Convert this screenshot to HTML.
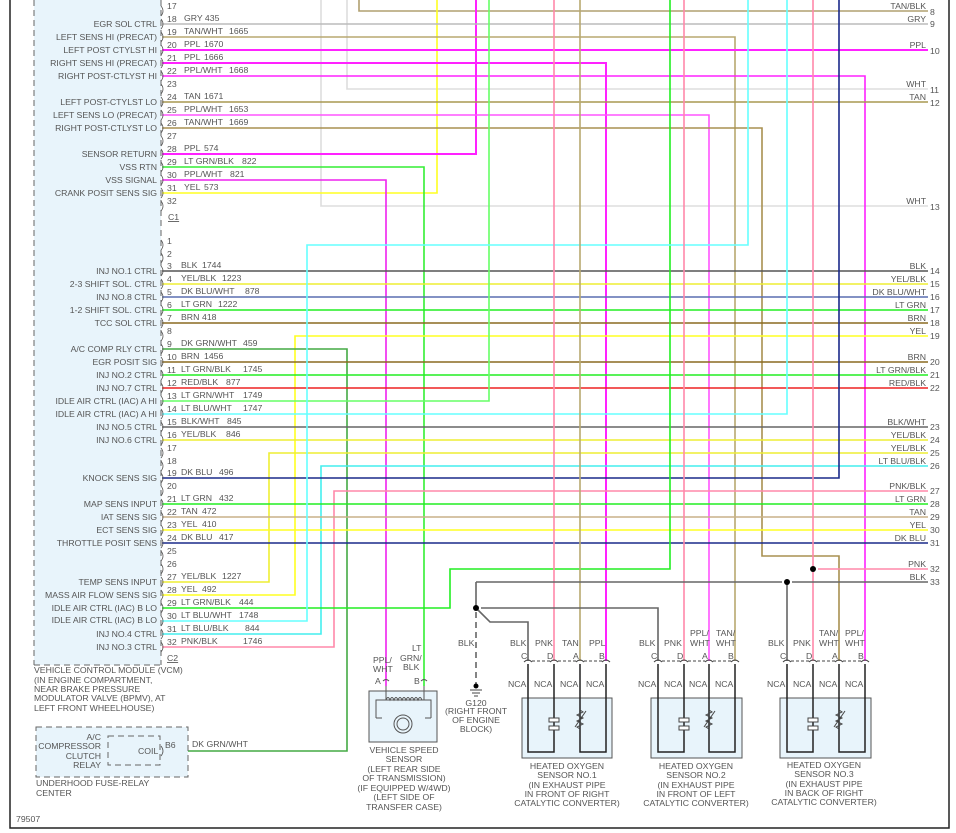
<!DOCTYPE html>
<html><head><meta charset="utf-8"><style>
html,body{margin:0;padding:0;background:#fff}
svg{display:block;font-family:"Liberation Sans",sans-serif}
text{fill:#555;font-size:8.7px}
.r{text-anchor:end}.c{text-anchor:middle}
</style></head><body>
<svg width="956" height="833" viewBox="0 0 956 833" xmlns="http://www.w3.org/2000/svg">
<rect x="0" y="0" width="956" height="833" fill="#fff"/>
<rect x="34" y="0" width="127" height="665" fill="#e8f4fb"/>
<line x1="34" y1="0" x2="34" y2="665" stroke="#666" stroke-dasharray="6,4"/>
<line x1="34" y1="665" x2="161" y2="665" stroke="#666" stroke-dasharray="6,4"/>
<line x1="161" y1="0" x2="161" y2="665" stroke="#666" stroke-dasharray="6,4"/>
<path d="M10,0 V828 H949 V0" fill="none" stroke="#222" stroke-width="1.5"/>

<g fill="none" stroke-width="1.6">
<path d="M321,0 V206 H928" stroke="#ddd"/>
<path d="M347,0 V89 H928" stroke="#ddd"/>
<path d="M359,0 V11 H928" stroke="#b0a070"/>
<path d="M437,0 V193 H162" stroke="#ff2"/>
<path d="M476,0 V154 H162" stroke="#f2f" stroke-width="2"/>
<path d="M162,24 H928" stroke="#bbb"/>
<path d="M162,37 H735 V661" stroke="#b8a870"/>
<path d="M162,50 H928" stroke="#f2f" stroke-width="2"/>
<path d="M162,63 H606 V661" stroke="#f2f" stroke-width="2"/>
<path d="M162,76 H865 V661" stroke="#f2f"/>
<path d="M162,102 H928" stroke="#a89850"/>
<path d="M162,115 H709 V661" stroke="#f5f"/>
<path d="M162,128 H762 V556 H839 V661" stroke="#a89050"/>
<path d="M162,167 H424 V686" stroke="#3e3"/>
<path d="M162,180 H386 V686" stroke="#e2e"/>
<path d="M162,271 H928" stroke="#555"/>
<path d="M162,284 H928" stroke="#ee3"/>
<path d="M162,297 H928" stroke="#5a6fb0"/>
<path d="M162,310 H928" stroke="#2e2"/>
<path d="M162,323 H928" stroke="#8a6a20"/>
<path d="M162,595 H295 V336 H928" stroke="#ff2"/>
<path d="M162,349 H347 V751 H165" stroke="#4a4"/>
<path d="M162,362 H928" stroke="#8a6a20"/>
<path d="M162,375 H928" stroke="#2e2"/>
<path d="M162,388 H928" stroke="#e22"/>
<path d="M162,401 H489 V0" stroke="#6f6"/>
<path d="M162,414 H787 V0" stroke="#6ff"/>
<path d="M162,427 H928" stroke="#666"/>
<path d="M162,440 H928" stroke="#ee3"/>
<path d="M162,582 H269 V453 H928" stroke="#ee3"/>
<path d="M162,634 H321 V466 H928" stroke="#4ee"/>
<path d="M162,478 H839 V0" stroke="#1a2a8a"/>
<path d="M162,647 H334 V491 H928" stroke="#f8a"/>
<path d="M162,504 H928" stroke="#2e2"/>
<path d="M162,517 H928" stroke="#c8b088"/>
<path d="M162,530 H928" stroke="#ff2"/>
<path d="M162,543 H928" stroke="#1a2a8a"/>
<path d="M162,608 H450 V569 H670 V0" stroke="#2e2"/>
<path d="M162,621 H307 V245 H748 V0" stroke="#6ff"/>
<path d="M554,0 V661" stroke="#f8a"/>
<path d="M580,0 V661" stroke="#b8a870"/>
<path d="M684,0 V661" stroke="#f8a"/>
<path d="M813,0 V661" stroke="#f8a"/>
<path d="M818,569 H928" stroke="#f8a"/>
<path d="M476,582 H782 M792,582 H928" stroke="#666"/>
<path d="M787,582 V661" stroke="#666"/>
<path d="M476,582 V608 M481,608 H658 V661 M476,608 L490,622 H528 V661" stroke="#666"/>
<path d="M476,612 V685" stroke="#666" stroke-dasharray="6,4"/>
</g>
<g fill="#000"><circle cx="813" cy="569" r="3"/><circle cx="787" cy="582" r="3"/><circle cx="476" cy="608" r="3"/><circle cx="476" cy="686" r="2.5"/></g>
<path d="M470,690 H482 M472,693 H480 M474,696 H478" stroke="#444"/>

<g fill="none" stroke="#555" stroke-width="0.8">
<path d="M161,6 q4,5 0,10 M161,19 q4,5 0,10 M161,32 q4,5 0,10 M161,45 q4,5 0,10 M161,58 q4,5 0,10 M161,71 q4,5 0,10 M161,84 q4,5 0,10 M161,97 q4,5 0,10 M161,110 q4,5 0,10 M161,123 q4,5 0,10 M161,136 q4,5 0,10 M161,149 q4,5 0,10 M161,162 q4,5 0,10 M161,175 q4,5 0,10 M161,188 q4,5 0,10 M161,201 q4,5 0,10"/>
<path d="M161,240 q4,5 0,10 M161,253 q4,5 0,10 M161,266 q4,5 0,10 M161,279 q4,5 0,10 M161,292 q4,5 0,10 M161,305 q4,5 0,10 M161,318 q4,5 0,10 M161,331 q4,5 0,10 M161,344 q4,5 0,10 M161,357 q4,5 0,10 M161,370 q4,5 0,10 M161,383 q4,5 0,10 M161,396 q4,5 0,10 M161,409 q4,5 0,10 M161,422 q4,5 0,10 M161,435 q4,5 0,10 M161,448 q4,5 0,10 M161,461 q4,5 0,10 M161,473 q4,5 0,10 M161,486 q4,5 0,10 M161,499 q4,5 0,10 M161,512 q4,5 0,10 M161,525 q4,5 0,10 M161,538 q4,5 0,10 M161,551 q4,5 0,10 M161,564 q4,5 0,10 M161,577 q4,5 0,10 M161,590 q4,5 0,10 M161,603 q4,5 0,10 M161,616 q4,5 0,10 M161,629 q4,5 0,10 M161,642 q4,5 0,10"/>
</g>

<g>
<text x="167" y="9">17</text>
<text x="167" y="22">18</text><text x="184" y="21">GRY 435</text><text class="r" x="157" y="27">EGR SOL CTRL</text>
<text x="167" y="35">19</text><text x="184" y="34">TAN/WHT</text><text x="229" y="34">1665</text><text class="r" x="157" y="40">LEFT SENS HI (PRECAT)</text>
<text x="167" y="48">20</text><text x="184" y="47">PPL</text><text x="204" y="47">1670</text><text class="r" x="157" y="53">LEFT POST CTYLST HI</text>
<text x="167" y="61">21</text><text x="184" y="60">PPL</text><text x="204" y="60">1666</text><text class="r" x="157" y="66">RIGHT SENS HI (PRECAT)</text>
<text x="167" y="74">22</text><text x="184" y="73">PPL/WHT</text><text x="229" y="73">1668</text><text class="r" x="157" y="79">RIGHT POST-CTLYST HI</text>
<text x="167" y="87">23</text>
<text x="167" y="100">24</text><text x="184" y="99">TAN</text><text x="204" y="99">1671</text><text class="r" x="157" y="105">LEFT POST-CTYLST LO</text>
<text x="167" y="113">25</text><text x="184" y="112">PPL/WHT</text><text x="229" y="112">1653</text><text class="r" x="157" y="118">LEFT SENS LO (PRECAT)</text>
<text x="167" y="126">26</text><text x="184" y="125">TAN/WHT</text><text x="229" y="125">1669</text><text class="r" x="157" y="131">RIGHT POST-CTLYST LO</text>
<text x="167" y="139">27</text>
<text x="167" y="152">28</text><text x="184" y="151">PPL</text><text x="204" y="151">574</text><text class="r" x="157" y="157">SENSOR RETURN</text>
<text x="167" y="165">29</text><text x="184" y="164">LT GRN/BLK</text><text x="242" y="164">822</text><text class="r" x="157" y="170">VSS RTN</text>
<text x="167" y="178">30</text><text x="184" y="177">PPL/WHT</text><text x="230" y="177">821</text><text class="r" x="157" y="183">VSS SIGNAL</text>
<text x="167" y="191">31</text><text x="184" y="190">YEL</text><text x="204" y="190">573</text><text class="r" x="157" y="196">CRANK POSIT SENS SIG</text>
<text x="167" y="204">32</text>
<text x="168" y="220" text-decoration="underline">C1</text>
</g>
<g>
<text x="167" y="244">1</text><text x="167" y="257">2</text>
<text x="167" y="269">3</text><text x="181" y="268">BLK</text><text x="202" y="268">1744</text><text class="r" x="157" y="274">INJ NO.1 CTRL</text>
<text x="167" y="282">4</text><text x="181" y="281">YEL/BLK</text><text x="222" y="281">1223</text><text class="r" x="157" y="287">2-3 SHIFT SOL. CTRL</text>
<text x="167" y="295">5</text><text x="181" y="294">DK BLU/WHT</text><text x="245" y="294">878</text><text class="r" x="157" y="300">INJ NO.8 CTRL</text>
<text x="167" y="308">6</text><text x="181" y="307">LT GRN</text><text x="218" y="307">1222</text><text class="r" x="157" y="313">1-2 SHIFT SOL. CTRL</text>
<text x="167" y="321">7</text><text x="181" y="320">BRN</text><text x="202" y="320">418</text><text class="r" x="157" y="326">TCC SOL CTRL</text>
<text x="167" y="334">8</text>
<text x="167" y="347">9</text><text x="181" y="346">DK GRN/WHT</text><text x="243" y="346">459</text><text class="r" x="157" y="352">A/C COMP RLY CTRL</text>
<text x="167" y="360">10</text><text x="181" y="359">BRN</text><text x="204" y="359">1456</text><text class="r" x="157" y="365">EGR POSIT SIG</text>
<text x="167" y="373">11</text><text x="181" y="372">LT GRN/BLK</text><text x="243" y="372">1745</text><text class="r" x="157" y="378">INJ NO.2 CTRL</text>
<text x="167" y="386">12</text><text x="181" y="385">RED/BLK</text><text x="226" y="385">877</text><text class="r" x="157" y="391">INJ NO.7 CTRL</text>
<text x="167" y="399">13</text><text x="181" y="398">LT GRN/WHT</text><text x="243" y="398">1749</text><text class="r" x="157" y="404">IDLE AIR CTRL (IAC) A HI</text>
<text x="167" y="412">14</text><text x="181" y="411">LT BLU/WHT</text><text x="243" y="411">1747</text><text class="r" x="157" y="417">IDLE AIR CTRL (IAC) A HI</text>
<text x="167" y="425">15</text><text x="181" y="424">BLK/WHT</text><text x="227" y="424">845</text><text class="r" x="157" y="430">INJ NO.5 CTRL</text>
<text x="167" y="438">16</text><text x="181" y="437">YEL/BLK</text><text x="226" y="437">846</text><text class="r" x="157" y="443">INJ NO.6 CTRL</text>
<text x="167" y="451">17</text><text x="167" y="464">18</text>
<text x="167" y="476">19</text><text x="181" y="475">DK BLU</text><text x="219" y="475">496</text><text class="r" x="157" y="481">KNOCK SENS SIG</text>
<text x="167" y="489">20</text>
<text x="167" y="502">21</text><text x="181" y="501">LT GRN</text><text x="219" y="501">432</text><text class="r" x="157" y="507">MAP SENS INPUT</text>
<text x="167" y="515">22</text><text x="181" y="514">TAN</text><text x="202" y="514">472</text><text class="r" x="157" y="520">IAT SENS SIG</text>
<text x="167" y="528">23</text><text x="181" y="527">YEL</text><text x="202" y="527">410</text><text class="r" x="157" y="533">ECT SENS SIG</text>
<text x="167" y="541">24</text><text x="181" y="540">DK BLU</text><text x="219" y="540">417</text><text class="r" x="157" y="546">THROTTLE POSIT SENS</text>
<text x="167" y="554">25</text><text x="167" y="567">26</text>
<text x="167" y="580">27</text><text x="181" y="579">YEL/BLK</text><text x="222" y="579">1227</text><text class="r" x="157" y="585">TEMP SENS INPUT</text>
<text x="167" y="593">28</text><text x="181" y="592">YEL</text><text x="202" y="592">492</text><text class="r" x="157" y="598">MASS AIR FLOW SENS SIG</text>
<text x="167" y="606">29</text><text x="181" y="605">LT GRN/BLK</text><text x="239" y="605">444</text><text class="r" x="157" y="611">IDLE AIR CTRL (IAC) B LO</text>
<text x="167" y="619">30</text><text x="181" y="618">LT BLU/WHT</text><text x="239" y="618">1748</text><text class="r" x="157" y="623">IDLE AIR CTRL (IAC) B LO</text>
<text x="167" y="632">31</text><text x="181" y="631">LT BLU/BLK</text><text x="245" y="631">844</text><text class="r" x="157" y="637">INJ NO.4 CTRL</text>
<text x="167" y="645">32</text><text x="181" y="644">PNK/BLK</text><text x="243" y="644">1746</text><text class="r" x="157" y="650">INJ NO.3 CTRL</text>
<text x="167" y="661" text-decoration="underline">C2</text>
</g>
<g>
<text class="r" x="926" y="9">TAN/BLK</text><text x="930" y="15">8</text>
<text class="r" x="926" y="22">GRY</text><text x="930" y="27">9</text>
<text class="r" x="926" y="48">PPL</text><text x="930" y="54">10</text>
<text class="r" x="926" y="87">WHT</text><text x="930" y="93">11</text>
<text class="r" x="926" y="100">TAN</text><text x="930" y="106">12</text>
<text class="r" x="926" y="204">WHT</text><text x="930" y="210">13</text>
<text class="r" x="926" y="269">BLK</text><text x="930" y="274">14</text>
<text class="r" x="926" y="282">YEL/BLK</text><text x="930" y="287">15</text>
<text class="r" x="926" y="295">DK BLU/WHT</text><text x="930" y="300">16</text>
<text class="r" x="926" y="308">LT GRN</text><text x="930" y="313">17</text>
<text class="r" x="926" y="321">BRN</text><text x="930" y="326">18</text>
<text class="r" x="926" y="334">YEL</text><text x="930" y="339">19</text>
<text class="r" x="926" y="360">BRN</text><text x="930" y="365">20</text>
<text class="r" x="926" y="373">LT GRN/BLK</text><text x="930" y="378">21</text>
<text class="r" x="926" y="386">RED/BLK</text><text x="930" y="391">22</text>
<text class="r" x="926" y="425">BLK/WHT</text><text x="930" y="430">23</text>
<text class="r" x="926" y="438">YEL/BLK</text><text x="930" y="443">24</text>
<text class="r" x="926" y="451">YEL/BLK</text><text x="930" y="456">25</text>
<text class="r" x="926" y="464">LT BLU/BLK</text><text x="930" y="469">26</text>
<text class="r" x="926" y="489">PNK/BLK</text><text x="930" y="494">27</text>
<text class="r" x="926" y="502">LT GRN</text><text x="930" y="507">28</text>
<text class="r" x="926" y="515">TAN</text><text x="930" y="520">29</text>
<text class="r" x="926" y="528">YEL</text><text x="930" y="533">30</text>
<text class="r" x="926" y="541">DK BLU</text><text x="930" y="546">31</text>
<text class="r" x="926" y="567">PNK</text><text x="930" y="572">32</text>
<text class="r" x="926" y="580">BLK</text><text x="930" y="585">33</text>
</g>

<g>
<text x="34" y="673">VEHICLE CONTROL MODULE (VCM)</text>
<text x="34" y="683">(IN ENGINE COMPARTMENT,</text>
<text x="34" y="692">NEAR BRAKE PRESSURE</text>
<text x="34" y="701">MODULATOR VALVE (BPMV), AT</text>
<text x="34" y="711">LEFT FRONT WHEELHOUSE)</text>
</g>
<rect x="36" y="727" width="152" height="50" fill="#e8f4fb" stroke="#666" stroke-dasharray="6,4"/>
<rect x="108" y="736" width="52" height="29" fill="none" stroke="#666" stroke-dasharray="6,4"/>
<path d="M161,746 q4,5 0,10" fill="none" stroke="#555" stroke-width="0.8"/>
<text class="r" x="101" y="740">A/C</text><text class="r" x="101" y="749">COMPRESSOR</text><text class="r" x="101" y="759">CLUTCH</text><text class="r" x="101" y="768">RELAY</text>
<text x="138" y="754">COIL</text><text x="165" y="748">B6</text><text x="192" y="747">DK GRN/WHT</text>
<text x="36" y="786">UNDERHOOD FUSE-RELAY</text><text x="36" y="796">CENTER</text>
<text x="16" y="822">79507</text>

<rect x="369" y="691" width="68" height="51" fill="#e8f4fb" stroke="#555"/>
<path d="M386,686 V700 M424,686 V700 M376,718 V700 H431 V718 M376,718 H382 M431,718 H425" fill="none" stroke="#555"/>
<path d="M386,700 q2,-5 4,0 q2,-5 4,0 q2,-5 4,0 q2,-5 4,0 q2,-5 4,0 q2,-5 4,0 q2,-5 4,0 q2,-5 4,0 q2,-5 4,0" fill="none" stroke="#555"/>
<circle cx="403" cy="724" r="9" fill="none" stroke="#555"/><circle cx="403" cy="724" r="6" fill="none" stroke="#555"/>
<path d="M383,681 q3,-3 6,0 M421,681 q3,-3 6,0" fill="none" stroke="#555"/>
<text x="373" y="663">PPL/</text><text x="373" y="672">WHT</text>
<text x="412" y="651">LT</text><text x="400" y="661">GRN/</text><text x="403" y="670">BLK</text>
<text x="375" y="684">A</text><text x="414" y="684">B</text>
<text class="c" x="404" y="753">VEHICLE SPEED</text><text class="c" x="404" y="762">SENSOR</text>
<text class="c" x="404" y="772">(LEFT REAR SIDE</text><text class="c" x="404" y="781">OF TRANSMISSION)</text>
<text class="c" x="404" y="791">(IF EQUIPPED W/4WD)</text><text class="c" x="404" y="800">(LEFT SIDE OF</text><text class="c" x="404" y="810">TRANSFER CASE)</text>
<text x="458" y="646">BLK</text>
<text class="c" x="476" y="706">G120</text><text class="c" x="476" y="714">(RIGHT FRONT</text><text class="c" x="476" y="723">OF ENGINE</text><text class="c" x="476" y="732">BLOCK)</text>

<g fill="#e8f4fb" stroke="#555"><rect x="522" y="698" width="90" height="60"/><rect x="651" y="698" width="91" height="60"/><rect x="780" y="698" width="91" height="60"/></g>
<g fill="none" stroke="#222" stroke-width="1.5">
<path d="M528,664 V752 H554 V664 M580,664 V752 H606 V664"/>
<path d="M658,664 V752 H684 V664 M709,664 V752 H735 V664"/>
<path d="M787,664 V752 H813 V664 M839,664 V752 H865 V664"/>
</g>
<g fill="#fff" stroke="#444" stroke-width="1">
<rect x="549" y="718" width="10" height="4"/><rect x="549" y="726" width="10" height="4"/>
<rect x="679" y="718" width="10" height="4"/><rect x="679" y="726" width="10" height="4"/>
<rect x="808" y="718" width="10" height="4"/><rect x="808" y="726" width="10" height="4"/>
</g>
<g fill="none" stroke="#444">
<path d="M580,710 l3,2 -6,3 6,3 -6,3 6,3 -6,3 3,2 M575,727 L586,711"/>
<path d="M709,710 l3,2 -6,3 6,3 -6,3 6,3 -6,3 3,2 M704,727 L715,711"/>
<path d="M839,710 l3,2 -6,3 6,3 -6,3 6,3 -6,3 3,2 M834,727 L845,711"/>
<path d="M524,662 q4,-4 8,0 M550,662 q4,-4 8,0 M576,662 q4,-4 8,0 M602,662 q4,-4 8,0 M654,662 q4,-4 8,0 M680,662 q4,-4 8,0 M705,662 q4,-4 8,0 M731,662 q4,-4 8,0 M783,662 q4,-4 8,0 M809,662 q4,-4 8,0 M835,662 q4,-4 8,0 M861,662 q4,-4 8,0"/>
<path d="M532,661 H550 M558,661 H576 M584,661 H602 M662,661 H680 M688,661 H705 M713,661 H731 M791,661 H809 M817,661 H835 M843,661 H861" stroke-dasharray="3,2"/>
</g>
<g>
<text x="510" y="646">BLK</text><text x="535" y="646">PNK</text><text x="562" y="646">TAN</text><text x="589" y="646">PPL</text>
<text x="521" y="659">C</text><text x="547" y="659">D</text><text x="573" y="659">A</text><text x="599" y="659">B</text>
<text x="508" y="687">NCA</text><text x="534" y="687">NCA</text><text x="560" y="687">NCA</text><text x="586" y="687">NCA</text>
<text x="639" y="646">BLK</text><text x="664" y="646">PNK</text><text x="690" y="636">PPL/</text><text x="690" y="646">WHT</text><text x="716" y="636">TAN/</text><text x="716" y="646">WHT</text>
<text x="651" y="659">C</text><text x="677" y="659">D</text><text x="702" y="659">A</text><text x="728" y="659">B</text>
<text x="638" y="687">NCA</text><text x="664" y="687">NCA</text><text x="689" y="687">NCA</text><text x="715" y="687">NCA</text>
<text x="768" y="646">BLK</text><text x="793" y="646">PNK</text><text x="819" y="636">TAN/</text><text x="819" y="646">WHT</text><text x="845" y="636">PPL/</text><text x="845" y="646">WHT</text>
<text x="780" y="659">C</text><text x="806" y="659">D</text><text x="832" y="659">A</text><text x="858" y="659">B</text>
<text x="767" y="687">NCA</text><text x="793" y="687">NCA</text><text x="819" y="687">NCA</text><text x="845" y="687">NCA</text>
<text class="c" x="567" y="769">HEATED OXYGEN</text><text class="c" x="567" y="778">SENSOR NO.1</text><text class="c" x="567" y="788">(IN EXHAUST PIPE</text><text class="c" x="567" y="797">IN FRONT OF RIGHT</text><text class="c" x="567" y="806">CATALYTIC CONVERTER)</text>
<text class="c" x="696" y="769">HEATED OXYGEN</text><text class="c" x="696" y="778">SENSOR NO.2</text><text class="c" x="696" y="788">(IN EXHAUST PIPE</text><text class="c" x="696" y="797">IN FRONT OF LEFT</text><text class="c" x="696" y="806">CATALYTIC CONVERTER)</text>
<text class="c" x="824" y="768">HEATED OXYGEN</text><text class="c" x="824" y="777">SENSOR NO.3</text><text class="c" x="824" y="787">(IN EXHAUST PIPE</text><text class="c" x="824" y="796">IN BACK OF RIGHT</text><text class="c" x="824" y="805">CATALYTIC CONVERTER)</text>
</g>
</svg>
</body></html>
